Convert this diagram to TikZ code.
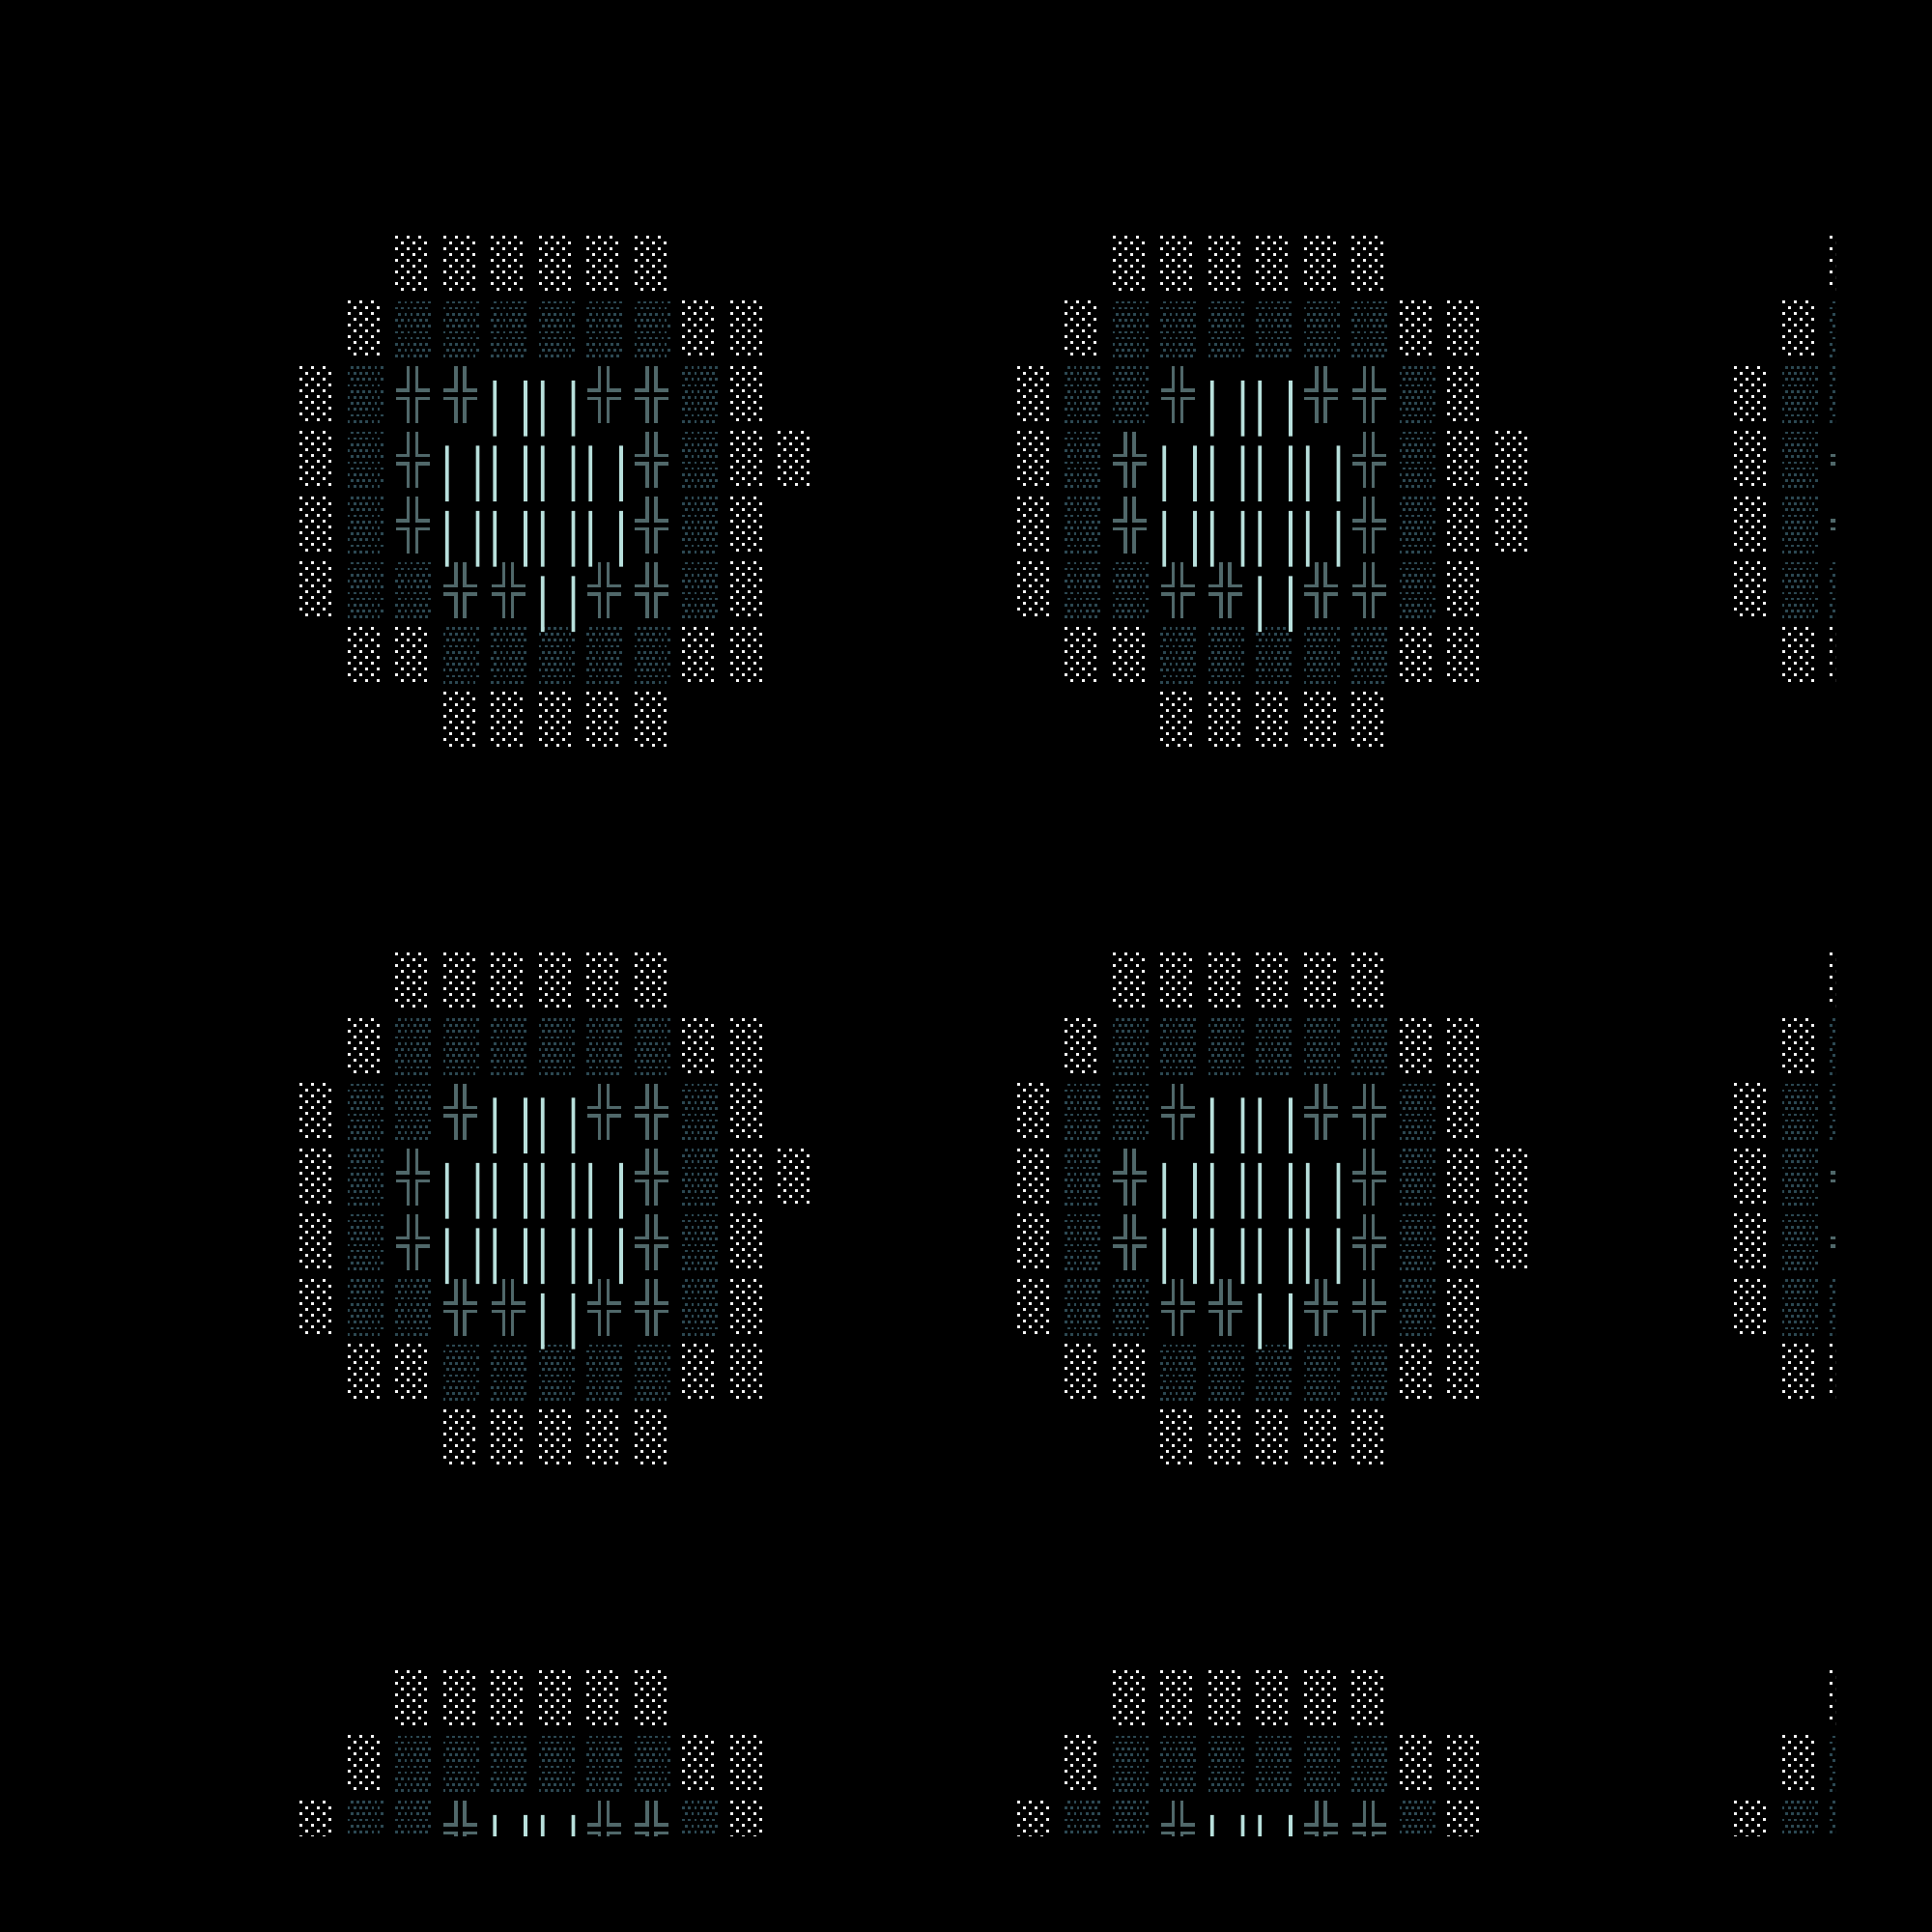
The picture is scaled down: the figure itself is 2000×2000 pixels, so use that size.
\documentclass[tikz,border=0pt]{standalone}
\definecolor{lightdot}{RGB}{248,248,248}
\definecolor{meddot}{RGB}{44,72,82}
\definecolor{crosscol}{RGB}{80,104,106}
\definecolor{barcol}{RGB}{184,224,220}
\tikzset{
  lightcell/.pic={
    \draw[lightdot,line width=3pt,dash pattern=on 3pt off 9pt]
      (0.3,1.7)--++(27,0) (6.3,7.7)--++(27,0)
      (0.3,13.7)--++(27,0) (6.3,19.7)--++(27,0)
      (0.3,25.7)--++(27,0) (6.3,31.7)--++(27,0)
      (0.3,37.7)--++(27,0) (6.3,43.7)--++(27,0)
      (0.3,49.7)--++(27,0) (6.3,55.7)--++(27,0);
  },
  medcell/.pic={
    \draw[meddot,line width=2.7pt,dash pattern=on 2.7pt off 3.5pt]
      (3.3,1.8)--++(33.7,0) (0.2,8.0)--++(33.7,0)
      (3.3,14.2)--++(33.7,0) (0.2,20.4)--++(33.7,0)
      (3.3,26.6)--++(33.7,0) (0.2,32.8)--++(33.7,0)
      (3.3,39.0)--++(33.7,0) (0.2,45.2)--++(33.7,0)
      (3.3,51.4)--++(33.7,0) (0.2,57.6)--++(33.7,0);
  },
  crosscell/.pic={
    \draw[crosscol,line width=3.4pt,line join=miter]
      (13.5,0.4)--(13.5,25.3)--(0.8,25.3)
      (22.5,0.4)--(22.5,25.3)--(35.8,25.3)
      (0.8,34)--(13.5,34)--(13.5,59)
      (35.8,34)--(22.5,34)--(22.5,59);
  },
  barcell/.pic={
    \fill[barcol] (2.3,15.2) rectangle (6.1,73) (34.1,15.2) rectangle (37.9,73);
  },
  blankcell/.pic={}
}
\newcommand\drawpanel[4]{%
  \begin{scope}[shift={({742.5*#1},{742.5*#2})}]
    \foreach \cc/\rr in {2/0,3/0,4/0,5/0,6/0,7/0,1/1,8/1,9/1,0/2,9/2,0/3,9/3,10/3,
        0/4,9/4,0/5,9/5,1/6,2/6,8/6,9/6,3/7,4/7,5/7,6/7,7/7}
      {\pic at ({310+49.5*\cc},{243.6+67.5*\rr}) {lightcell};}
    \foreach \cc/\rr in {2/1,3/1,4/1,5/1,6/1,7/1,1/2,8/2,1/3,8/3,1/4,8/4,
        1/5,2/5,8/5,3/6,4/6,5/6,6/6,7/6}
      {\pic at ({310+49.5*\cc},{243.6+67.5*\rr}) {medcell};}
    \pic at ({310+49.5*2},{243.6+67.5*2}) {#3};
    \pic at ({310+49.5*10},{243.6+67.5*4}) {#4};
    \foreach \cc/\rr in {3/2,6/2,7/2,2/3,7/3,2/4,7/4,3/5,4/5,6/5,7/5}
      {\pic at ({310+49.5*\cc},{243.6+67.5*\rr}) {crosscell};}
    \foreach \cc/\rr in {4/2,5/2,3/3,4/3,5/3,6/3,3/4,4/4,5/4,6/4,5/5}
      {\pic at ({310+49.5*\cc},{243.6+67.5*\rr}) {barcell};}
  \end{scope}}
\begin{document}
\begin{tikzpicture}[x=1pt,y=-1pt]
  \useasboundingbox (0,0) rectangle (2000,2000);
  \fill[black] (0,0) rectangle (2000,2000);
  \begin{scope}
    \clip (0,0) rectangle (1900,1900);
    \drawpanel{0}{0}{crosscell}{blankcell}
    \drawpanel{1}{0}{medcell}{lightcell}
    \drawpanel{2}{0}{medcell}{lightcell}
    \drawpanel{0}{1}{medcell}{blankcell}
    \drawpanel{1}{1}{medcell}{lightcell}
    \drawpanel{2}{1}{medcell}{lightcell}
    \drawpanel{0}{2}{medcell}{lightcell}
    \drawpanel{1}{2}{medcell}{lightcell}
    \drawpanel{2}{2}{medcell}{lightcell}
  \end{scope}
\end{tikzpicture}
\end{document}
